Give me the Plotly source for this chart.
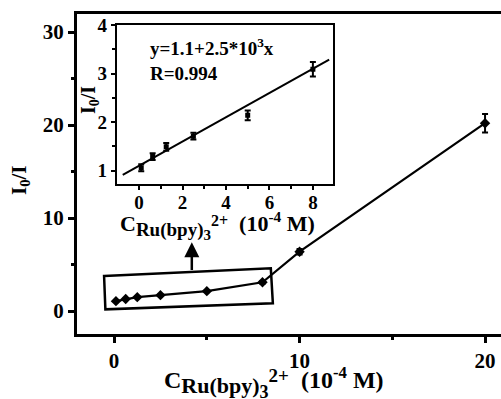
import plotly.graph_objects as go

# data (concentration in 1e-4 M)
conc = [0.1, 0.625, 1.25, 2.5, 5, 8, 10, 20]
ratio = [1.06, 1.29, 1.49, 1.71, 2.14, 3.09, 6.38, 20.2]
ratio_err = [0.07, 0.07, 0.08, 0.07, 0.10, 0.15, 0.3, 1.0]

inset_conc = conc[:6]
inset_ratio = ratio[:6]
inset_err = ratio_err[:6]

fit_x = [-0.75, 8.75]
fit_intercept = 1.1
fit_slope = 0.25
fit_y = [fit_intercept + fit_slope * v for v in fit_x]

main_xticks = [0, 10, 20]
main_yticks = [0, 10, 20, 30]
inset_xticks = [0, 2, 4, 6, 8]
inset_yticks = [1, 2, 3, 4]

FONT = "Liberation Serif"
BLK = "black"

def bold(vals):
    return ["<b>%s</b>" % v for v in vals]

fig = go.Figure()

fig.add_trace(go.Scatter(
    x=conc, y=ratio, mode="lines+markers",
    line=dict(color=BLK, width=2.2),
    marker=dict(symbol="diamond", size=8, color=BLK),
    error_y=dict(type="data", array=ratio_err, visible=True, color=BLK, thickness=2, width=3),
    xaxis="x", yaxis="y", showlegend=False))

fig.add_trace(go.Scatter(
    x=fit_x, y=fit_y, mode="lines", line=dict(color=BLK, width=2),
    xaxis="x2", yaxis="y2", showlegend=False))

fig.add_trace(go.Scatter(
    x=inset_conc, y=inset_ratio, mode="markers",
    marker=dict(symbol="square", size=5, color=BLK),
    error_y=dict(type="data", array=inset_err, visible=True, color=BLK, thickness=2, width=3),
    xaxis="x2", yaxis="y2", showlegend=False))

tickfont_main = dict(family=FONT, size=21, color=BLK)
tickfont_in = dict(family=FONT, size=19, color=BLK)

fig.update_layout(
    width=501, height=399,
    margin=dict(l=77, r=0, t=14, b=65),
    paper_bgcolor="white", plot_bgcolor="white",
    xaxis=dict(domain=[0, 1], range=[-2.0, 20.86], tickvals=main_xticks, ticktext=bold(main_xticks),
               ticks="outside", ticklen=6, tickwidth=2.5, tickcolor=BLK,
               showline=True, linewidth=3, linecolor=BLK, mirror=True,
               showgrid=False, zeroline=False, tickfont=tickfont_main,
               minor=dict(tickvals=[5, 15], ticks="outside", ticklen=3, tickwidth=2.5, tickcolor=BLK),
               anchor="y"),
    yaxis=dict(domain=[0, 1], range=[-2.47, 31.94], tickvals=main_yticks, ticktext=bold(main_yticks),
               ticks="outside", ticklen=6, tickwidth=2.5, tickcolor=BLK,
               showline=True, linewidth=3, linecolor=BLK, mirror=False,
               showgrid=False, zeroline=False, tickfont=tickfont_main,
               minor=dict(tickvals=[5, 15, 25], ticks="outside", ticklen=3, tickwidth=2.5, tickcolor=BLK),
               anchor="x"),
    xaxis2=dict(domain=[0.0936, 0.6045], range=[-1.03, 8.94], tickvals=inset_xticks, ticktext=bold(inset_xticks),
                ticks="outside", ticklen=4, tickwidth=2, tickcolor=BLK, ticklabelstandoff=-4,
                showline=True, linewidth=2, linecolor=BLK, mirror=True,
                showgrid=False, zeroline=False, tickfont=tickfont_in,
                minor=dict(tickvals=[1, 3, 5, 7], ticks="outside", ticklen=3, tickwidth=2, tickcolor=BLK),
                anchor="y2"),
    yaxis2=dict(domain=[0.468, 0.9656], range=[0.72, 4.0], tickvals=inset_yticks, ticktext=bold(inset_yticks),
                ticks="outside", ticklen=4, tickwidth=2, tickcolor=BLK,
                showline=True, linewidth=2, linecolor=BLK, mirror=True,
                showgrid=False, zeroline=False, tickfont=tickfont_in,
                minor=dict(tickvals=[1.5, 2.5, 3.5], ticks="outside", ticklen=3, tickwidth=2, tickcolor=BLK),
                anchor="x2"),
)

# tilted zoom box around low-concentration points
fig.add_shape(type="path",
              path="M -0.54 3.76 L 8.45 4.59 L 8.56 0.83 L -0.47 0.18 Z",
              xref="x", yref="y", line=dict(color=BLK, width=2.5), fillcolor="rgba(0,0,0,0)")

# arrow pointing to inset
fig.add_annotation(x=4.19, y=7.4, ax=4.19, ay=4.25, xref="x", yref="y", axref="x", ayref="y",
                   text="", showarrow=True, arrowhead=2, arrowsize=1.2, arrowwidth=2.5, arrowcolor=BLK)

NB = "\u00a0"


def ctitle(base, subsz, sub2sz, sup_outer, supsz):
    return ("<b>C"
            "<sub><span style='font-size:%dpx'>Ru(bpy)</span>"
            "<span style='font-size:%dpx'><sub><span style='font-size:%dpx'>3</span></sub></span>"
            "</sub>"
            "<span style='font-size:%dpx'><sup><span style='font-size:%dpx'>2+</span></sup></span>"
            "%s%s(10<sup>-4</sup>%sM)</b>") % (subsz, base, sub2sz, sup_outer, supsz, NB, NB, NB)

# main axis titles
fig.add_annotation(text=ctitle(24, 22, 18, 14, 19), x=274, y=399 - 382, xref="paper", yref="paper",
                   showarrow=False, xanchor="center", yanchor="middle",
                   font=dict(family=FONT, size=24, color=BLK))
fig.add_annotation(text="<b>I<sub>0</sub>/I</b>", x=20, y=399 - 180, xref="paper", yref="paper",
                   showarrow=False, textangle=-90, xanchor="center", yanchor="middle",
                   font=dict(family=FONT, size=21, color=BLK))

# inset titles
fig.add_annotation(text=ctitle(22, 19, 15, 12, 16), x=217, y=399 - 225, xref="paper", yref="paper",
                   showarrow=False, xanchor="center", yanchor="middle",
                   font=dict(family=FONT, size=22, color=BLK))
fig.add_annotation(text="<b>I<sub>0</sub>/I</b>", x=89, y=399 - 100, xref="paper", yref="paper",
                   showarrow=False, textangle=-90, xanchor="center", yanchor="middle",
                   font=dict(family=FONT, size=20, color=BLK))

# equation text
fig.add_annotation(text="<b>y=1.1+2.5*10<sup>3</sup>x<br>R=0.994</b>", x=148, y=399 - 33,
                   xref="paper", yref="paper", showarrow=False, xanchor="left", yanchor="top",
                   align="left",
                   font=dict(family=FONT, size=19, color=BLK))

# convert pixel-based annotation positions to paper coords
W, H = 501, 399
L, R, T, B = 77, 0, 14, 65
pw, ph = W - L - R, H - T - B
for a in fig.layout.annotations:
    if a.xref == "paper":
        a.x = (a.x - L) / pw
        a.y = (a.y - B) / ph

fig.write_html("out.html", config={"displayModeBar": False},
               post_script="document.body.style.margin='0';")
